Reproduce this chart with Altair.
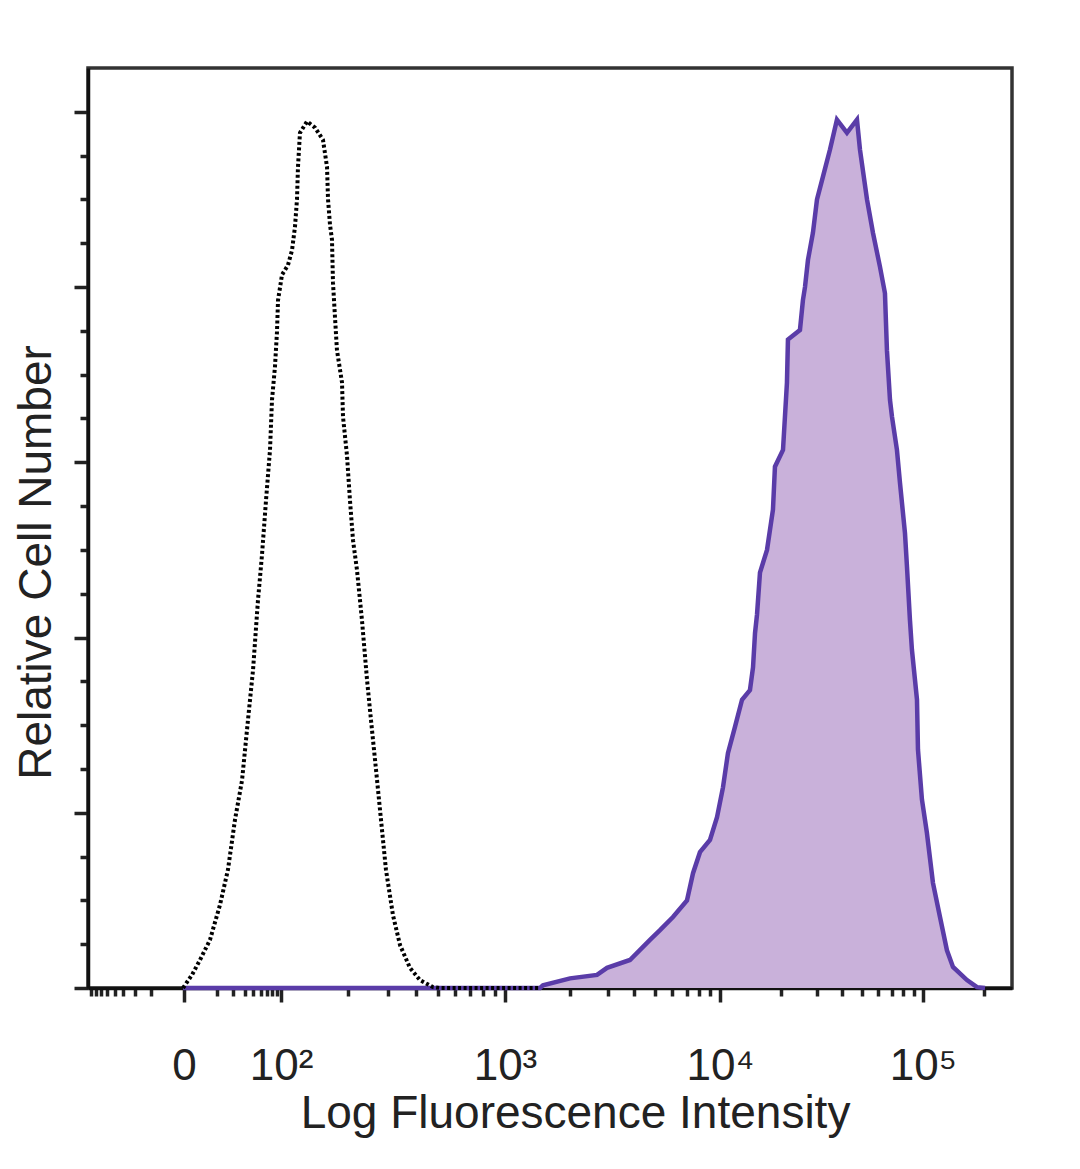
import math
import altair as alt
import pandas as pd

# ---- data (display channel 0-1024, relative cell number 0-100) ----
ctrl_x = [105.3, 115.3, 124.1, 135.2, 146.3, 155.1, 162.9, 170.7, 177.3, 182.9,
          188.4, 192.8, 197.3, 201.7, 203.9, 207.2, 209.4, 210.6, 215.0, 221.6,
          226.1, 229.4, 231.6, 232.7, 234.9, 242.7, 251.6, 260.4, 264.9, 266.0,
          268.2, 270.4, 271.5, 273.7, 275.9, 281.5, 282.6, 287.0, 290.3, 293.7,
          298.1, 303.6, 309.2, 313.6, 319.2, 324.7, 330.2, 338.0, 345.8, 356.8,
          367.9, 382.3, 390.1, 500.0]
ctrl_y = [0.0, 1.5, 3.2, 5.5, 9.5, 13.5, 19.2, 23.7, 30.6, 36.3,
          44.3, 49.4, 55.7, 61.4, 67.1, 70.9, 74.8, 78.5, 81.4, 82.5,
          84.2, 86.9, 90.0, 93.7, 97.6, 98.9, 98.2, 96.8, 93.7, 90.0,
          87.1, 85.4, 80.5, 76.6, 72.8, 69.1, 65.2, 60.8, 55.7, 51.1,
          47.7, 42.0, 35.2, 30.6, 24.9, 19.2, 13.5, 8.3, 4.9, 2.3,
          0.9, 0.1, 0.0, 0.0]

stain_x = [105.3, 500.9, 504.2, 534.2, 564.1, 575.2, 600.6, 622.8, 633.9, 648.3,
           663.8, 670.5, 678.2, 689.3, 697.1, 703.7, 709.2, 717.0, 724.8, 733.6,
           737.0, 739.2, 741.4, 744.7, 752.5, 759.1, 761.3, 770.2, 774.6, 775.7,
           789.0, 792.3, 794.6, 797.9, 803.4, 807.9, 814.5, 822.3, 830.0, 841.1,
           852.2, 855.5, 863.3, 869.9, 877.7, 883.2, 885.4, 888.8, 891.0, 896.5,
           899.9, 905.4, 907.6, 910.9, 913.1, 918.7, 919.8, 924.2, 929.7, 936.4,
           944.2, 951.9, 958.6, 974.1, 985.2, 994.1]
stain_y = [0.0, 0.0, 0.3, 1.1, 1.5, 2.3, 3.2, 5.5, 6.6, 8.1,
           10.0, 13.1, 15.5, 16.9, 19.5, 22.9, 26.8, 29.8, 32.9, 34.0,
           36.6, 40.5, 42.6, 47.4, 50.0, 54.6, 59.5, 61.4, 69.1, 74.0,
           75.1, 78.5, 80.0, 83.1, 86.2, 90.0, 92.6, 95.7, 99.1, 97.6,
           99.1, 95.7, 90.0, 86.2, 82.3, 79.3, 72.8, 67.1, 65.2, 61.4,
           57.6, 51.9, 48.1, 42.0, 38.6, 32.9, 27.2, 21.5, 17.7, 12.0,
           8.1, 4.3, 2.4, 0.9, 0.1, 0.0]

# ---- axis ticks (display channels) ----
major_labels = ["0", "10²", "10³", "10⁴", "10⁵"]
major_pos = [106.4, 213.9, 462.1, 700.4, 925.3]
decade_start = {1: 112.4, 2: 213.9, 3: 462.1, 4: 700.4, 5: 925.3}
decade_width = {1: 101.5, 2: 248.2, 3: 238.3, 4: 224.9, 5: 224.9}

minor_pos = []
for d in range(1, 6):
    for k in range(2, 10):
        p = round(decade_start[d] + math.log10(k) * decade_width[d], 1)
        if p <= 1024:
            minor_pos.append(p)
neg_pos = [round(2 * major_pos[0] - p, 1) for p in minor_pos[:8] if 2 * major_pos[0] - p >= 0]
x_ticks = sorted(set(major_pos + minor_pos + neg_pos))

y_major = [0, 20, 40, 60, 80, 100]
y_ticks = list(range(0, 101, 5))

PURPLE = "#5a3ca8"
FILL = "#c9b1da"
FONT = "Liberation Sans, Arial, DejaVu Sans"

label_expr = " : ".join(
    f"abs(datum.value - {p}) < 0.05 ? '{l}'" for p, l in zip(major_pos, major_labels)
) + " : ''"
x_major_test = " || ".join(f"abs(datum.value - {p}) < 0.05" for p in major_pos)
y_major_test = " || ".join(f"abs(datum.value - {p}) < 0.05" for p in y_major)

ctrl_df = pd.DataFrame({"x": ctrl_x, "y": ctrl_y})
stain_df = pd.DataFrame({"x": stain_x, "y": stain_y})

x_scale = alt.Scale(domain=[0, 1024], nice=False, zero=False)
y_scale = alt.Scale(domain=[0, 105], nice=False)

x_axis = alt.Axis(
    values=x_ticks,
    tickCount=500,
    labelExpr=label_expr,
    labelOverlap=False,
    labelFont=FONT,
    labelFontSize=44,
    labelColor="#222222",
    labelBaseline="alphabetic",
    labelPadding=77,
    labelAlign="center",
    labelFlush=False,
    labelBound=False,
    labelSeparation=0,
    tickSize={"condition": {"test": x_major_test, "value": 14}, "value": 8},
    tickWidth=3.5,
    tickColor="#222222",
    domainColor="#111111",
    domainWidth=3.5,
    grid=False,
    title="Log Fluorescence Intensity",
    titleFont=FONT,
    titleFontSize=46,
    titleFontWeight="normal",
    titleColor="#222222",
    titleX=487,
    titleY=139,
    titleBaseline="alphabetic",
    titleAlign="center",
)

y_axis = alt.Axis(
    values=y_ticks,
    tickCount=500,
    labels=False,
    tickSize={"condition": {"test": y_major_test, "value": 14}, "value": 8},
    tickWidth=3.5,
    tickColor="#222222",
    domainColor="#111111",
    domainWidth=3.5,
    grid=False,
    title="Relative Cell Number",
    titleFont=FONT,
    titleFontSize=46,
    titleFontWeight="normal",
    titleColor="#222222",
    titleX=-38,
    titleY=494,
    titleBaseline="alphabetic",
    titleAlign="center",
    titleAngle=270,
)

area = alt.Chart(stain_df).mark_area(color=FILL, opacity=1).encode(
    x=alt.X("x:Q", scale=x_scale, axis=x_axis),
    y=alt.Y("y:Q", scale=y_scale, axis=y_axis),
)
stain_line = alt.Chart(stain_df).mark_line(color=PURPLE, strokeWidth=4.5).encode(
    x=alt.X("x:Q", scale=x_scale),
    y=alt.Y("y:Q", scale=y_scale),
)
ctrl_line = alt.Chart(ctrl_df).mark_line(
    color="black", strokeWidth=4, strokeDash=[3, 2.5]
).encode(
    x=alt.X("x:Q", scale=x_scale),
    y=alt.Y("y:Q", scale=y_scale),
)

chart = (
    alt.layer(area, stain_line, ctrl_line)
    .properties(
        width=924,
        height=920,
        background="white",
        autosize=alt.AutoSizeParams(type="none"),
        padding={"left": 80, "top": 60, "right": 56, "bottom": 173},
    )
    .configure_view(stroke="#333333", strokeWidth=3.5)
)

chart.save("out.html", embed_options={"renderer": "svg", "actions": False})
